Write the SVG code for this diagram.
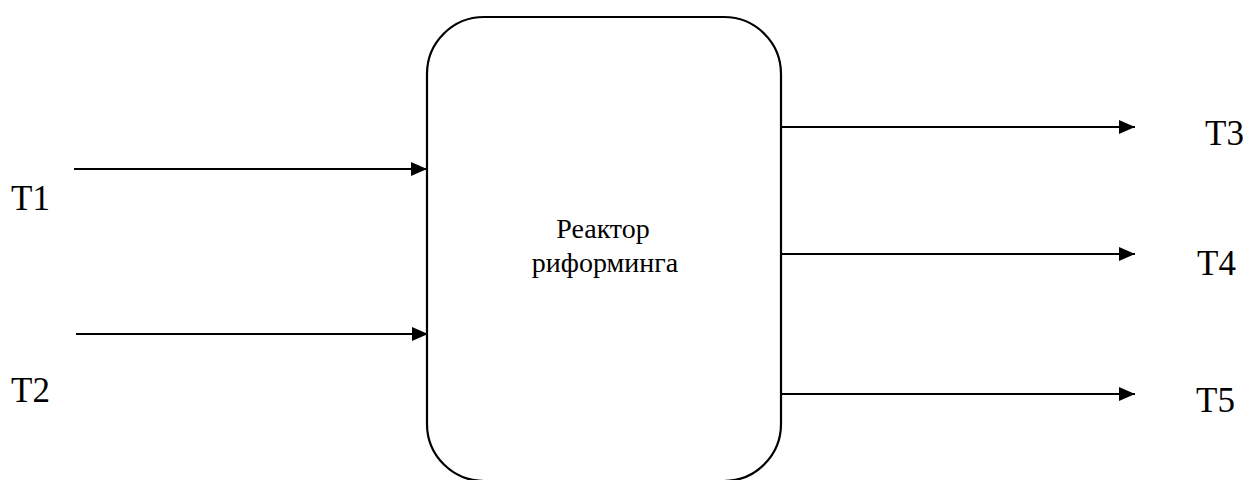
<svg xmlns="http://www.w3.org/2000/svg" width="1243" height="480" viewBox="0 0 1243 480">
  <style>
    .flow { stroke: #000; stroke-width: 2.2; fill: none; marker-end: url(#arrow); }
    .box { fill: #fff; stroke: #000; stroke-width: 2.2; }
    text { font-family: "Liberation Serif", "DejaVu Serif", serif; fill: #000; }
    .lbl { font-size: 35px; }
    .name { font-size: 28px; text-anchor: middle; }
  </style>
  <defs>
    <marker id="arrow" viewBox="0 0 16 14" refX="16" refY="7" markerWidth="16" markerHeight="14" markerUnits="userSpaceOnUse" orient="auto">
      <path d="M0,0 L16,7 L0,14 Z" fill="#000"/>
    </marker>
  </defs>

  <!-- reforming reactor -->
  <g id="reactor">
    <rect class="box" x="427" y="17" width="354" height="464" rx="57" ry="57"/>
    <text class="name" x="603" y="238">Реактор</text>
    <text class="name" x="605" y="272">риформинга</text>
  </g>

  <!-- stream labels -->
  <g id="t1"><text class="lbl" x="11" y="210">T1</text></g>
  <g id="t2"><text class="lbl" x="11" y="402">T2</text></g>
  <g id="t3"><text class="lbl" x="1205" y="145">T3</text></g>
  <g id="t4"><text class="lbl" x="1197" y="275">T4</text></g>
  <g id="t5"><text class="lbl" x="1196" y="412">T5</text></g>

  <!-- streams in and out -->
  <g id="connectors">
    <line class="flow" x1="74" y1="169" x2="427" y2="169"/>
    <line class="flow" x1="76" y1="334" x2="428" y2="334"/>
    <line class="flow" x1="781" y1="127" x2="1135" y2="127"/>
    <line class="flow" x1="781" y1="254" x2="1135" y2="254"/>
    <line class="flow" x1="781" y1="394" x2="1135" y2="394"/>
  </g>
</svg>
